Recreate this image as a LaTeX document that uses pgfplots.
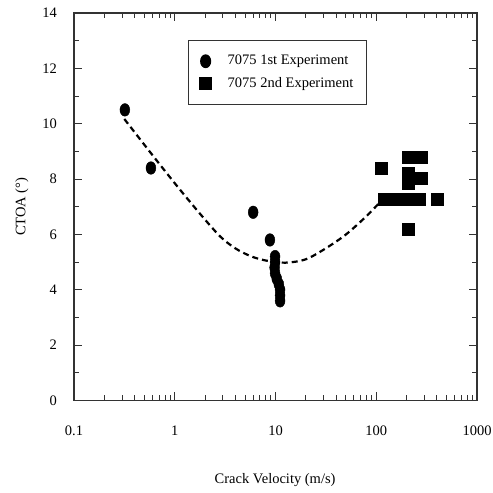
\documentclass[border=0pt]{standalone}
\usepackage{pgfplots}
\pgfplotsset{compat=1.18}
\usepackage{fontspec}
\setmainfont{Liberation Serif}
\begin{document}
\fontsize{14.5bp}{17bp}\selectfont
\begin{tikzpicture}
\begin{axis}[
  at={(74bp,92.5bp)}, anchor=south west,
  scale only axis, width=403bp, height=387.5bp,
  xmode=log, xmin=0.1, xmax=1000,
  ymin=0, ymax=14,
  ytick={0,2,...,14}, minor ytick={1,3,...,13},
  xtick={0.1,1,10,100,1000},
  xticklabels={0.1,1,10,100,1000},
  log ticks with fixed point,
  tick align=inside,
  major tick length=8bp, minor tick length=5bp,
  axis line style={line width=1.2bp, black!80},
  every tick/.style={line width=0.9bp, black!80},
  /pgf/number format/assume math mode=true,
  tick label style={font=\fontsize{14.5bp}{17bp}\selectfont},
  xticklabel style={yshift=-20bp},
  yticklabel style={xshift=-12bp},
  xlabel={Crack Velocity (m/s)},
  ylabel={CTOA (°)},
  xlabel style={at={(axis description cs:0.499,-0.205)}, anchor=center, font=\fontsize{14.5bp}{17bp}\selectfont},
  ylabel style={at={(axis description cs:-0.129,0.5)}, anchor=center, font=\fontsize{14.5bp}{17bp}\selectfont},
  legend style={at={(0.283,0.931)}, anchor=north west, draw=black!80, line width=1.2bp,
    font=\fontsize{14.5bp}{17bp}\selectfont, inner xsep=11bp, inner ysep=13bp,
    row sep=6bp, cells={anchor=west},
    /tikz/every odd column/.append style={column sep=14bp},
    /tikz/every even column/.append style={column sep=5bp}},
  legend cell align=left,
]
\addplot[only marks, mark=*, mark size=5.5bp, mark options={fill=black, draw=black, xscale=0.9, yscale=1.15}]
coordinates {
(0.32,10.5) (0.58,8.4) (6.0,6.8) (8.8,5.8)
(9.9,5.2) (9.9,5.0) (9.8,4.8) (9.9,4.6) (10.3,4.4) (10.8,4.2) (11.1,4.0) (11.1,3.8) (11.1,3.6)
};
\addlegendentry{7075 1st Experiment}
\addplot[only marks, mark=square*, mark size=6bp, mark options={fill=black, draw=black}]
coordinates {
(113,8.4) (121,7.27) (157,7.27) (207,7.27) (265,7.27) (403,7.27)
(207,8.8) (280,8.8) (207,8.2) (207,7.85) (280,8.03) (207,6.2)
};
\addlegendentry{7075 2nd Experiment}
\addplot[smooth, black, line width=2.2bp, dash pattern=on 6bp off 4bp, forget plot]
coordinates {
(0.316,10.17) (0.562,9.0) (1.0,7.85) (1.778,6.75) (2.818,5.93) (3.981,5.5) (5.623,5.22) (7.943,5.06) (12.59,4.98) (19.95,5.1) (31.62,5.5) (50.12,6.0) (79.43,6.65) (104.7,7.1)
};
\end{axis}
\pgfresetboundingbox
\path (0,0) rectangle (493bp,493bp);
\end{tikzpicture}
\end{document}
